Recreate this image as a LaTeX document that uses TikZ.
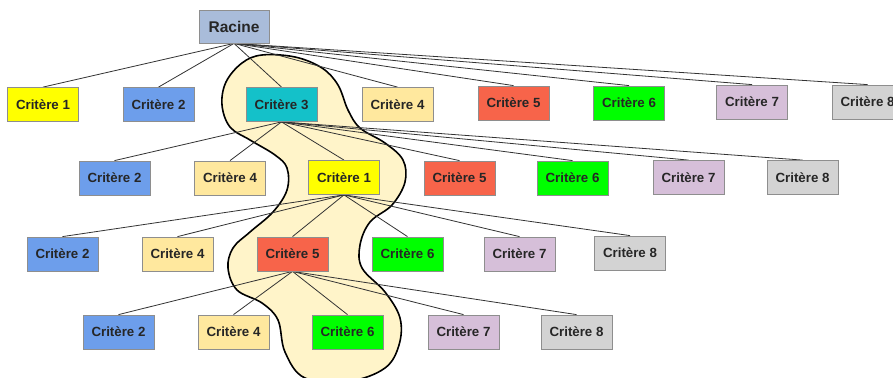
\documentclass[tikz,border=0pt]{standalone}
\usepackage{fontspec}
\setmainfont{Liberation Sans}
\usetikzlibrary{backgrounds}
\definecolor{cRac}{HTML}{A9BCDA}
\definecolor{cUn}{HTML}{FFFF00}
\definecolor{cDeux}{HTML}{6D9EEB}
\definecolor{cTrois}{HTML}{14C1C9}
\definecolor{cQuatre}{HTML}{FFE89E}
\definecolor{cCinq}{HTML}{F7644A}
\definecolor{cSix}{HTML}{00FF00}
\definecolor{cSept}{HTML}{D6BFD9}
\definecolor{cHuit}{HTML}{D3D3D3}
\definecolor{cBlob}{HTML}{FFF4C9}
\definecolor{cBord}{HTML}{8E8E8E}
\tikzset{
  crit/.style={draw=cBord, line width=0.8pt, minimum width=71pt, minimum height=34pt, inner sep=0pt,
    font=\fontsize{13.3}{15}\selectfont\bfseries, text=black!85},
  edge/.style={draw=black!80, line width=0.8pt},
  blob/.style={draw=black, line width=1.6pt, fill=cBlob}
}
\begin{document}
\begin{tikzpicture}[x=1pt,y=-1pt]
\useasboundingbox (0,0) rectangle (893,377);
% nodes
\node[crit, fill=cRac, minimum width=70pt, minimum height=33pt, font=\fontsize{15.5}{17}\selectfont\bfseries] (root) at (234,26.5) {Racine};
\node[crit, fill=cUn] (a1) at (43,104.5) {Critère 1};
\node[crit, fill=cDeux] (a2) at (158.5,104.5) {Critère 2};
\node[crit, fill=cTrois] (a3) at (281.5,104.5) {Critère 3};
\node[crit, fill=cQuatre] (a4) at (397.5,104.5) {Critère 4};
\node[crit, fill=cCinq] (a5) at (513.5,103) {Critère 5};
\node[crit, fill=cSix] (a6) at (629,103) {Critère 6};
\node[crit, fill=cSept] (a7) at (752,102) {Critère 7};
\node[crit, fill=cHuit] (a8) at (867.5,102) {Critère 8};
\node[crit, fill=cDeux] (b2) at (114.5,178) {Critère 2};
\node[crit, fill=cQuatre] (b4) at (230,178) {Critère 4};
\node[crit, fill=cUn] (b1) at (344,177.5) {Critère 1};
\node[crit, fill=cCinq] (b5) at (459.5,178) {Critère 5};
\node[crit, fill=cSix] (b6) at (572.5,178) {Critère 6};
\node[crit, fill=cSept] (b7) at (688.5,177.5) {Critère 7};
\node[crit, fill=cHuit] (b8) at (802.5,177.5) {Critère 8};
\node[crit, fill=cDeux] (c2) at (62.5,254) {Critère 2};
\node[crit, fill=cQuatre] (c4) at (177.5,254) {Critère 4};
\node[crit, fill=cCinq] (c5) at (292.5,254) {Critère 5};
\node[crit, fill=cSix] (c6) at (407.5,254) {Critère 6};
\node[crit, fill=cSept] (c7) at (519.5,254) {Critère 7};
\node[crit, fill=cHuit] (c8) at (630,253) {Critère 8};
\node[crit, fill=cDeux] (d2) at (118.5,332) {Critère 2};
\node[crit, fill=cQuatre] (d4) at (233.5,332) {Critère 4};
\node[crit, fill=cSix] (d6) at (347.5,332) {Critère 6};
\node[crit, fill=cSept] (d7) at (463.5,332) {Critère 7};
\node[crit, fill=cHuit] (d8) at (576.5,332) {Critère 8};
\begin{pgfonlayer}{background}
\fill[white] (0,0) rectangle (893,377);
\draw[blob] plot[smooth cycle, tension=0.6] coordinates {
 (262,55) (295,57) (322,68) (338,85) (348,110) (360,128) (385,143) (403,160)
 (405,182) (392,205) (370,222) (360,245) (362,268) (385,292) (400,318) (399,345)
 (385,368) (350,381) (305,378) (285,352) (278,320) (262,303) (237,290) (228,268)
 (233,248) (250,232) (273,212) (287,190) (287,168) (275,155) (250,140) (230,127)
 (222,105) (226,82) (242,63)};
\foreach \t in {a1,a2,a3,a4,a5,a6,a7,a8} \draw[edge] (root.south) -- (\t.north);
\foreach \t in {b2,b4,b1,b5,b6,b7,b8} \draw[edge] (a3.south) -- (\t.north);
\foreach \t in {c2,c4,c5,c6,c7,c8} \draw[edge] (b1.south) -- (\t.north);
\foreach \t in {d2,d4,d6,d7,d8} \draw[edge] (c5.south) -- (\t.north);
\end{pgfonlayer}
\end{tikzpicture}
\end{document}
